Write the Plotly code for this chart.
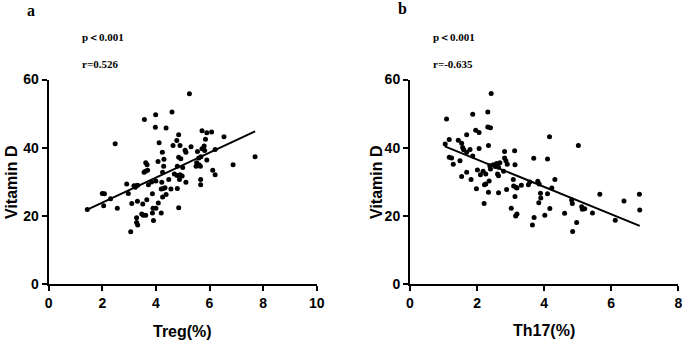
import numpy as np
import plotly.graph_objects as go

# Panel a: Treg(%) vs Vitamin D
treg_x = [1.44, 2.48, 3.57, 3.99, 4.60, 3.98, 4.38, 4.12, 4.85, 4.78, 4.64, 4.90, 4.24, 4.30, 4.08,
          3.62, 3.67, 3.61, 3.56, 3.69, 4.29, 5.09, 5.12, 5.31, 4.85, 4.93, 5.72, 5.90, 6.08, 6.54,
          5.85, 5.80, 5.72, 5.82, 5.55, 6.21, 5.68, 5.60, 5.52, 5.61, 5.50, 5.66, 5.90, 6.88, 7.70,
          6.12, 6.21, 5.00, 4.80, 4.69, 4.79, 4.90, 4.98, 4.88, 5.12, 4.48, 4.25, 4.00, 4.22, 4.28,
          4.20, 4.34, 4.56, 4.80, 5.67, 5.67, 4.38, 4.25, 4.09, 3.87, 3.89, 4.00, 4.20, 4.85, 3.87,
          3.91, 3.66, 3.51, 3.31, 3.10, 3.47, 3.53, 3.62, 3.28, 3.28, 3.32, 3.06, 2.56, 2.05, 2.31,
          2.00, 2.08, 2.91, 3.18, 3.26, 3.32, 3.23, 2.97, 3.72, 3.84, 5.25]
treg_vd = [21.9, 41.2, 48.3, 49.7, 50.5, 46.0, 45.8, 41.5, 43.8, 42.1, 40.7, 40.7, 38.7, 36.6, 36.0,
           35.6, 35.0, 33.1, 32.8, 33.4, 34.6, 39.3, 38.7, 40.3, 37.2, 36.8, 45.0, 44.4, 44.6, 43.2,
           42.5, 40.5, 39.7, 39.2, 38.9, 39.5, 37.4, 37.0, 35.6, 35.0, 34.6, 34.6, 36.4, 35.0, 37.4,
           33.4, 32.1, 34.2, 34.6, 32.3, 31.9, 32.1, 31.7, 30.7, 29.9, 30.7, 32.8, 30.3, 29.9, 28.1,
           27.9, 28.3, 27.9, 28.1, 30.7, 29.2, 26.3, 25.6, 23.8, 26.5, 22.3, 22.3, 20.9, 22.4, 20.9,
           18.7, 24.8, 23.5, 24.3, 23.7, 20.6, 20.2, 20.2, 19.5, 18.1, 17.4, 15.4, 22.3, 23.0, 25.1,
           26.6, 26.5, 29.4, 28.9, 28.9, 29.0, 28.4, 26.6, 29.2, 30.0, 55.8]
treg_fit_x = [1.44, 7.70]
treg_fit_y = [21.9, 44.8]

# Panel b: Th17(%) vs Vitamin D
th17_x = [1.09, 1.87, 2.32, 1.96, 2.06, 2.32, 2.40, 1.69, 1.17, 1.05, 1.44, 1.54, 1.57, 1.60, 1.69,
          1.79, 2.06, 2.34, 1.17, 1.24, 1.49, 1.29, 1.87, 2.82, 3.12, 2.82, 2.86, 2.90, 3.13, 2.38,
          2.48, 2.58, 2.68, 2.64, 2.40, 2.54, 2.18, 2.01, 2.26, 2.10, 1.69, 1.54, 1.82, 2.36, 2.26,
          2.22, 2.61, 2.64, 1.98, 2.34, 2.64, 2.21, 2.79, 2.88, 3.08, 3.09, 3.16, 3.19, 3.13, 3.32,
          3.53, 3.57, 3.81, 3.85, 3.69, 4.10, 4.16, 5.02, 4.32, 4.23, 4.10, 3.89, 3.90, 3.84, 3.02,
          3.19, 3.15, 3.70, 3.65, 4.02, 4.17, 4.61, 4.82, 4.84, 5.12, 5.14, 5.21, 5.44, 4.97, 4.85,
          5.66, 6.12, 6.38, 6.84, 6.85, 2.42]
th17_vd = [48.4, 49.8, 50.5, 45.1, 44.5, 46.1, 45.9, 43.8, 42.4, 41.1, 42.2, 41.3, 40.1, 39.4, 38.7,
           39.5, 39.8, 40.7, 37.2, 37.0, 36.2, 35.2, 37.6, 38.9, 39.1, 37.0, 36.2, 35.2, 35.0, 34.7,
           35.0, 35.4, 35.6, 34.3, 33.8, 34.5, 33.1, 33.5, 32.3, 32.1, 32.8, 31.6, 30.7, 30.3, 29.4,
           29.2, 32.3, 31.8, 28.0, 27.0, 26.8, 23.7, 33.1, 27.8, 30.7, 28.8, 28.4, 28.2, 25.7, 29.0,
           29.2, 30.0, 30.2, 29.4, 36.9, 36.7, 43.2, 40.7, 30.7, 28.2, 26.5, 26.7, 25.3, 23.9, 22.3,
           20.6, 20.0, 19.6, 17.4, 20.2, 22.2, 20.8, 24.7, 23.7, 22.7, 22.0, 22.1, 20.9, 18.1, 15.5,
           26.4, 18.8, 24.4, 26.4, 21.8, 55.9]
th17_fit_x = [1.04, 6.85]
th17_fit_y = [40.4, 17.1]

y_ticks = [0, 20, 40, 60]
x_ticks_a = [0, 2, 4, 6, 8, 10]
x_ticks_b = [0, 2, 4, 6, 8]

W, H = 685, 345
fig = go.Figure()

mk = dict(color="black", size=5)
fig.add_trace(go.Scatter(x=treg_x, y=treg_vd, mode="markers", marker=mk, xaxis="x", yaxis="y", showlegend=False, cliponaxis=False))
fig.add_trace(go.Scatter(x=treg_fit_x, y=treg_fit_y, mode="lines", line=dict(color="black", width=2), xaxis="x", yaxis="y", showlegend=False))
fig.add_trace(go.Scatter(x=th17_x, y=th17_vd, mode="markers", marker=mk, xaxis="x2", yaxis="y2", showlegend=False, cliponaxis=False))
fig.add_trace(go.Scatter(x=th17_fit_x, y=th17_fit_y, mode="lines", line=dict(color="black", width=2), xaxis="x2", yaxis="y2", showlegend=False))

tickfont = dict(family="Liberation Sans", size=14, color="black", weight="bold")
ax_common = dict(showline=True, linecolor="black", linewidth=2, ticks="outside", ticklen=5, tickwidth=2,
                 tickcolor="black", showgrid=False, zeroline=False, tickfont=tickfont, fixedrange=True,
                 automargin=False)

ydom = [(H - 284.3) / H, (H - 79.5) / H]
fig.update_layout(
    width=W, height=H, margin=dict(l=0, r=0, t=0, b=0, pad=0),
    paper_bgcolor="white", plot_bgcolor="white",
    xaxis=dict(domain=[48.7 / W, 316.7 / W], range=[0, 10], tickvals=x_ticks_a, anchor="y", **ax_common),
    yaxis=dict(domain=ydom, range=[0, 60], tickvals=y_ticks, anchor="x", **ax_common),
    xaxis2=dict(domain=[410 / W, 678.3 / W], range=[0, 8], tickvals=x_ticks_b, anchor="y2", **ax_common),
    yaxis2=dict(domain=ydom, range=[0, 60], tickvals=y_ticks, anchor="x2", **ax_common),
)

title_font = dict(family="Liberation Sans", size=16, color="black", weight="bold")
serif_big = dict(family="Liberation Serif", size=16, color="black", weight="bold")
serif_small = dict(family="Liberation Serif", size=11, color="black", weight="bold")

ann = [
    dict(text="a", x=31 / W, y=1 - 11 / H, font=serif_big),
    dict(text="b", x=402 / W, y=1 - 9 / H, font=serif_big),
    dict(text="p＜0.001", x=80 / W, y=1 - 37 / H, font=serif_small, xanchor="left"),
    dict(text="r=0.526", x=80 / W, y=1 - 64 / H, font=serif_small, xanchor="left"),
    dict(text="p＜0.001", x=431 / W, y=1 - 37 / H, font=serif_small, xanchor="left"),
    dict(text="r=-0.635", x=431 / W, y=1 - 64 / H, font=serif_small, xanchor="left"),
    dict(text="Treg(%)", x=183 / W, y=1 - 331 / H, font=title_font),
    dict(text="Th17(%)", x=544 / W, y=1 - 330 / H, font=title_font),
    dict(text="Vitamin D", x=11 / W, y=1 - 182 / H, font=title_font, textangle=-90),
    dict(text="Vitamin D", x=376 / W, y=1 - 182 / H, font=title_font, textangle=-90),
]
for a in ann:
    a.setdefault("xanchor", "center")
    fig.add_annotation(xref="paper", yref="paper", yanchor="middle", showarrow=False, **a)

fig.write_html("out.html", config={"displayModeBar": False},
               post_script="document.body.style.margin='0';document.body.style.overflow='hidden';")
